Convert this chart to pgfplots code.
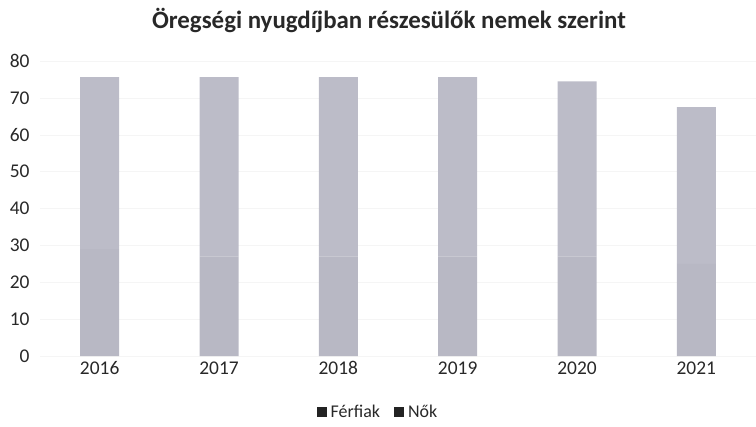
\documentclass[border=0pt]{standalone}
\usepackage{fontspec}
\setmainfont{Carlito}
\usepackage{pgfplots}
\pgfplotsset{compat=1.18}

\definecolor{ferfi}{RGB}{184,184,196}
\definecolor{no}{RGB}{188,188,200}
\definecolor{leg}{RGB}{35,35,35}
\definecolor{txt}{RGB}{40,40,40}

\begin{document}
\begin{tikzpicture}
\begin{axis}[
    ybar stacked,
    bar width=39bp,
    scale only axis,
    clip=false,
    width=716bp, height=295bp,
    xmin=-0.5, xmax=5.5,
    ymin=0, ymax=80,
    ytick={0,10,...,80},
    xtick=data,
    xticklabels={2016,2017,2018,2019,2020,2021},
    axis line style={draw=none},
    tick style={draw=none},
    ymajorgrids,
    grid style={gray!8},
    ticklabel style={font=\fontsize{19.5}{22}\selectfont, text=txt},
    /pgf/number format/assume math mode=true,
    yticklabel style={xshift=-7bp},
    xticklabel style={yshift=-2bp},
    legend style={at={(0.472,-0.19)}, anchor=center, draw=none,
        font=\fontsize{18}{20}\selectfont, text=txt,
        /tikz/every odd column/.append style={column sep=2bp},
        /tikz/every even column/.append style={column sep=12bp}},
    legend columns=2,
]
\addplot[fill=ferfi, draw=none,
    legend image code/.code={\fill[leg] (0bp,-5bp) rectangle (10bp,5bp);}]
    coordinates {(0,29) (1,27) (2,27) (3,27) (4,27) (5,25)};
\addplot[fill=no, draw=none,
    legend image code/.code={\fill[leg] (0bp,-5bp) rectangle (10bp,5bp);}]
    coordinates {(0,46.6) (1,48.6) (2,48.6) (3,48.6) (4,47.5) (5,42.5)};
\legend{Férfiak, Nők}
\coordinate (bl) at (rel axis cs:0,0);
\node[font=\bfseries\fontsize{25}{29}\selectfont, text=txt]
    at ([shift={(-9bp,41bp)}]rel axis cs:0.5,1) {Öregségi nyugdíjban részesülők nemek szerint};
\end{axis}
\pgfresetboundingbox
\path[use as bounding box] ([shift={(-40bp,-71bp)}]bl) rectangle ++(756bp,427bp);
\end{tikzpicture}
\end{document}
